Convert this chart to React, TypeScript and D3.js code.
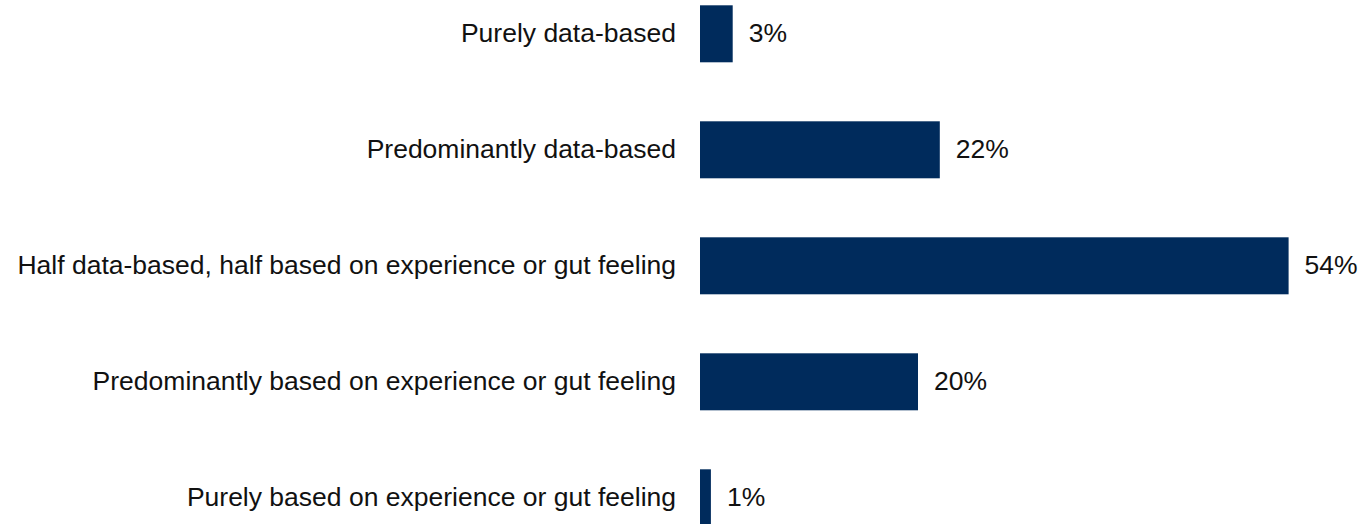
import React from "react";
import * as d3 from "d3";

const categories = [
  "Purely data-based",
  "Predominantly data-based",
  "Half data-based, half based on experience or gut feeling",
  "Predominantly based on experience or gut feeling",
  "Purely based on experience or gut feeling",
];
const values = [3, 22, 54, 20, 1];
const valueLabels = ["3%", "22%", "54%", "20%", "1%"];

const W = 1358;
const H = 524;

export default function App() {
  const x = d3.scaleLinear().domain([0, 100]).range([700, 700 + 1090]);
  const y = d3
    .scaleBand<string>()
    .domain(categories)
    .range([5.3 - 29.5, 5.3 - 29.5 + 116 * 5])
    .paddingInner(59 / 116)
    .paddingOuter(59 / 116 / 2);
  const bw = y.bandwidth();
  const font = "Arial, 'Liberation Sans', sans-serif";
  return (
    <svg
      width={W}
      height={H}
      style={{ position: "absolute", left: 0, top: 0, display: "block" }}
    >
      <rect width={W} height={H} fill="#ffffff" />
      {categories.map((c, i) => {
        const y0 = y(c)!;
        const cy = y0 + bw / 2;
        return (
          <g key={c}>
            <rect
              x={x(0)}
              y={y0}
              width={x(values[i]) - x(0)}
              height={bw}
              fill="#002B5C"
            />
            <text
              x={676}
              y={cy}
              dy="0.31em"
              textAnchor="end"
              fontFamily={font}
              fontSize={26.5}
              fill="#111111"
            >
              {c}
            </text>
            <text
              x={x(values[i]) + 16}
              y={cy}
              dy="0.31em"
              textAnchor="start"
              fontFamily={font}
              fontSize={26.5}
              fill="#111111"
            >
              {valueLabels[i]}
            </text>
          </g>
        );
      })}
    </svg>
  );
}
